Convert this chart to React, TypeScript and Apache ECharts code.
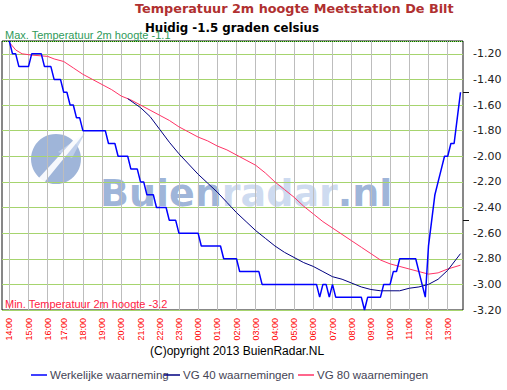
import React, { useEffect, useRef } from 'react';
import * as echarts from 'echarts';

// ---- texts ----
const chartTitle = 'Temperatuur 2m hoogte Meetstation De Bilt';
const chartSubtitle = 'Huidig -1.5 graden celsius';
const maxLabel = 'Max. Temperatuur 2m hoogte -1.1';
const minLabel = 'Min. Temperatuur 2m hoogte -3.2';
const copyright = '(C)opyright 2013 BuienRadar.NL';
const seriesNames = ['Werkelijke waarneming', 'VG 40 waarnemingen', 'VG 80 waarnemingen'];

// ---- axis ----
const yMin = -3.2;
const yMax = -1.1;
const yStep = 0.2;
const maxTemp = -1.1;
const markTicks = [-1.5, -2.5];

// ---- categories: 10-minute slots from 14:00 to 13:40 (one slot missing) ----
const hourLabels = ['14', '15', '16', '17', '18', '19', '20', '21', '22', '23', '00', '01',
  '02', '03', '04', '05', '06', '07', '08', '09', '10', '11', '12', '13'];
const minuteSlots = ['00', '10', '20', '30', '40', '50'];
const skippedSlots = ['16:50'];
const lastSlot = '13:40';

const categories: string[] = [];
outer: for (const h of hourLabels) {
  for (const m of minuteSlots) {
    const t = h + ':' + m;
    if (skippedSlots.includes(t)) continue;
    categories.push(t);
    if (t === lastSlot) break outer;
  }
}

// ---- series values ----
const observed = [
  -1.1, -1.2, -1.2, -1.3, -1.3, -1.3, -1.3, -1.2, -1.2, -1.2,
  -1.2, -1.3, -1.3, -1.3, -1.4, -1.4, -1.4, -1.5, -1.5, -1.6,
  -1.6, -1.7, -1.7, -1.8, -1.8, -1.8, -1.8, -1.8, -1.8, -1.8,
  -1.8, -1.9, -1.9, -1.9, -2.0, -2.0, -2.0, -2.0, -2.1, -2.1,
  -2.1, -2.2, -2.2, -2.3, -2.3, -2.3, -2.4, -2.4, -2.4, -2.4,
  -2.5, -2.5, -2.5, -2.6, -2.6, -2.6, -2.6, -2.6, -2.6, -2.6,
  -2.7, -2.7, -2.7, -2.7, -2.7, -2.7, -2.7, -2.8, -2.8, -2.8,
  -2.8, -2.8, -2.9, -2.9, -2.9, -2.9, -2.9, -2.9, -2.9, -3.0,
  -3.0, -3.0, -3.0, -3.0, -3.0, -3.0, -3.0, -3.0, -3.0, -3.0,
  -3.0, -3.0, -3.0, -3.0, -3.0, -3.0, -3.0, -3.1, -3.0, -3.0,
  -3.1, -3.0, -3.1, -3.1, -3.1, -3.1, -3.1, -3.1, -3.1, -3.1,
  -3.1, -3.2, -3.1, -3.1, -3.1, -3.1, -3.1, -3.0, -3.0, -3.0,
  -2.9, -2.9, -2.8, -2.8, -2.8, -2.8, -2.8, -2.8, -2.9, -3.0,
  -3.1, -2.7, -2.5, -2.3, -2.2, -2.1, -2.0, -2.0, -1.9, -1.9,
  -1.7, -1.5,
];

const avg40: [string, number][] = [
  ['20:20', -1.55], ['21:00', -1.62], ['21:30', -1.69], ['22:00', -1.79], ['22:30', -1.89],
  ['23:00', -1.98], ['23:30', -2.06], ['00:00', -2.14], ['00:30', -2.21], ['01:00', -2.28],
  ['01:30', -2.36], ['02:00', -2.44], ['02:30', -2.51], ['03:00', -2.58], ['03:30', -2.64],
  ['04:00', -2.70], ['04:30', -2.75], ['05:00', -2.79], ['05:30', -2.83], ['06:00', -2.86],
  ['06:30', -2.90], ['07:00', -2.94], ['07:30', -2.96], ['08:00', -2.99], ['08:30', -3.02],
  ['09:00', -3.04], ['09:30', -3.05], ['10:00', -3.05], ['10:30', -3.05], ['11:00', -3.03],
  ['11:30', -3.02], ['12:00', -3.00], ['12:30', -2.96], ['13:00', -2.89], ['13:40', -2.76],
];

const avg80: [string, number][] = [
  ['14:00', -1.11], ['14:20', -1.17], ['14:40', -1.20], ['15:10', -1.21], ['16:00', -1.22],
  ['16:20', -1.24], ['17:00', -1.26], ['17:30', -1.31], ['18:00', -1.36], ['18:30', -1.40],
  ['19:00', -1.44], ['19:30', -1.48], ['20:00', -1.53], ['20:30', -1.56], ['21:00', -1.60],
  ['21:30', -1.64], ['22:00', -1.68], ['22:30', -1.72], ['23:00', -1.77], ['23:30', -1.81],
  ['00:00', -1.85], ['00:30', -1.88], ['01:00', -1.92], ['01:30', -1.95], ['02:00', -1.99],
  ['02:30', -2.03], ['03:00', -2.07], ['03:30', -2.13], ['04:00', -2.20], ['04:30', -2.26],
  ['05:00', -2.32], ['05:30', -2.39], ['06:00', -2.45], ['06:30', -2.51], ['07:00', -2.56],
  ['07:30', -2.61], ['08:00', -2.66], ['08:30', -2.71], ['09:00', -2.76], ['09:30', -2.81],
  ['10:00', -2.84], ['10:30', -2.86], ['11:00', -2.88], ['11:30', -2.90], ['12:00', -2.92],
  ['12:30', -2.91], ['13:00', -2.88], ['13:40', -2.85],
];

const seriesColors = ['#0000ff', '#000080', '#ff3366'];

const isHour = (_i: number, v: string) => v.endsWith(':00');

export default function App() {
  const ref = useRef<HTMLDivElement>(null);

  useEffect(() => {
    if (!ref.current) return;
    const chart = echarts.init(ref.current, undefined, { renderer: 'svg' });
    const sans = 'Liberation Sans, Arial, sans-serif';
    const verdana = 'DejaVu Sans, Verdana, sans-serif';

    chart.setOption({
      animation: false,
      backgroundColor: '#ffffff',
      title: [
        { text: chartTitle, left: 135, top: 2, padding: 0,
          textStyle: { fontFamily: verdana, fontWeight: 'bold', fontSize: 12.8, color: '#b03030' } },
        { text: chartSubtitle, left: 145, top: 22, padding: 0,
          textStyle: { fontFamily: verdana, fontWeight: 'bold', fontSize: 11.8, color: '#000' } },
        { text: maxLabel, left: 5, top: 29, padding: 0,
          textStyle: { fontFamily: sans, fontWeight: 'normal', fontSize: 11, color: '#2f9a5a' } },
        { text: minLabel, left: 5, top: 298, padding: 0,
          textStyle: { fontFamily: sans, fontWeight: 'normal', fontSize: 11, color: '#ff2244' } },
        { text: copyright, left: 150, top: 345, padding: 0,
          textStyle: { fontFamily: sans, fontWeight: 'normal', fontSize: 12, color: '#000' } },
      ],
      legend: seriesNames.map((n, i) => ({
        data: [{ name: n, icon: 'rect' }],
        left: [31, 164, 298][i],
        top: 369,
        padding: 0,
        itemWidth: 16,
        itemHeight: 1.5,
        textStyle: { fontFamily: sans, fontSize: 11.5, color: '#445', padding: [0, 0, 0, -2] },
      })),
      graphic: [
        { type: 'circle', z: -10, shape: { cx: 56, cy: 159, r: 25 }, style: { fill: '#8ea8d2', opacity: 0.85 } },
        { type: 'polygon', z: -9, shape: { points: [[58, 152], [85, 133], [72, 158]] },
          style: { fill: '#c3d2ec', opacity: 0.85 } },
        { type: 'polygon', z: -8, shape: { points: [[37, 180], [43, 184], [83, 135], [79, 134]] },
          style: { fill: '#ffffff', opacity: 0.9 } },
        { type: 'text', z: -10, x: 100, y: 174,
          style: {
            text: '{a|Buien}{b|radar}{a|.nl}',
            verticalAlign: 'alphabetic',
            opacity: 0.85,
            rich: {
              a: { fontFamily: verdana, fontWeight: 'bold', fontSize: 38, fill: '#8ea8d2' },
              b: { fontFamily: verdana, fontWeight: 'bold', fontSize: 38, fill: '#c6d5ee' },
            },
          } },
      ],
      grid: [
        { left: 2, right: 44, top: 41, bottom: 80, show: true, borderColor: '#111', borderWidth: 1,
          backgroundColor: 'transparent' },
        { left: 9.3, right: 46.5, top: 41, bottom: 80 },
      ],
      xAxis: [
        { gridIndex: 0, type: 'value', min: 0, max: 1, show: false },
        {
          gridIndex: 1, type: 'category', data: categories, boundaryGap: false,
          axisLine: { show: false }, axisTick: { show: false },
          axisLabel: { interval: isHour, rotate: 90, margin: 8, fontFamily: sans, fontSize: 9, color: '#ff0000' },
          splitLine: { show: true, interval: isHour, lineStyle: { color: '#bdbdbd', width: 1 } },
        },
      ],
      yAxis: [
        {
          gridIndex: 0, type: 'value', min: yMin, max: yMax, interval: yStep, position: 'right',
          axisLine: { show: false }, axisTick: { show: false },
          axisLabel: { margin: 10, fontFamily: verdana, fontSize: 11, color: '#222', showMaxLabel: false,
            formatter: (v: number) => v.toFixed(2) },
          splitLine: { show: true, lineStyle: { color: '#a6d46e', width: 1 } },
        },
        {
          gridIndex: 0, type: 'value', min: yMin, max: yMax, position: 'right',
          axisLine: { show: false }, axisLabel: { show: false }, splitLine: { show: false },
          axisTick: { show: true, length: 6, customValues: markTicks, lineStyle: { color: '#111' } },
        },
        { gridIndex: 1, type: 'value', min: yMin, max: yMax, show: false },
      ],
      series: [
        {
          name: '__max', type: 'line', xAxisIndex: 0, yAxisIndex: 0, data: [], silent: true,
          markLine: { symbol: 'none', silent: true, label: { show: false },
            lineStyle: { color: '#006400', type: 'dotted', width: 1 },
            data: [{ yAxis: maxTemp }] },
        },
        {
          name: seriesNames[0], type: 'line', xAxisIndex: 1, yAxisIndex: 2, data: observed,
          symbol: 'none', showSymbol: false, z: 5,
          lineStyle: { color: seriesColors[0], width: 1.5 }, itemStyle: { color: seriesColors[0] },
        },
        {
          name: seriesNames[1], type: 'line', xAxisIndex: 1, yAxisIndex: 2, data: avg40,
          symbol: 'none', showSymbol: false, z: 4,
          lineStyle: { color: seriesColors[1], width: 1 }, itemStyle: { color: seriesColors[1] },
        },
        {
          name: seriesNames[2], type: 'line', xAxisIndex: 1, yAxisIndex: 2, data: avg80,
          symbol: 'none', showSymbol: false, z: 3,
          lineStyle: { color: seriesColors[2], width: 1 }, itemStyle: { color: seriesColors[2] },
        },
      ],
    });
    return () => chart.dispose();
  }, []);

  return <div ref={ref} style={{ position: 'fixed', left: 0, top: 0, width: 507, height: 390 }} />;
}
